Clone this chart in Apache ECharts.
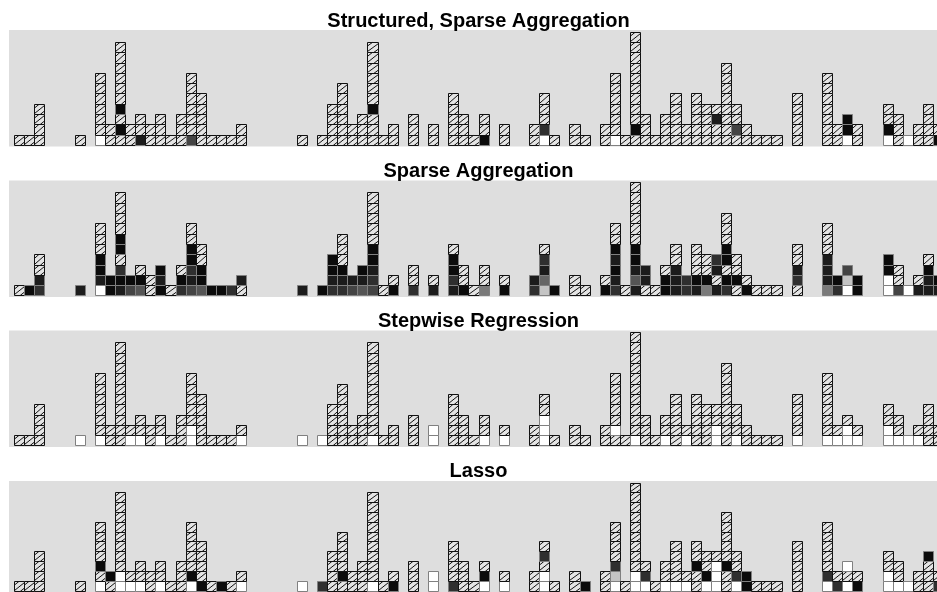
<!DOCTYPE html>
<html><head><meta charset="utf-8">
<script src="https://cdn.jsdelivr.net/npm/echarts@6/dist/echarts.min.js"></script>
<style>html,body{margin:0;padding:0;background:#fff}#c{width:937px;height:592px}</style>
</head><body><div id="c"></div>
<script>
// Panel titles
const panelTitles = ['Structured, Sparse Aggregation', 'Sparse Aggregation', 'Stepwise Regression', 'Lasso'];
const columnCount = 92;
// Cell codes per column, bottom to top. H = hatched, others = grey shades / white.
const structuredSparse = ['H','H','HHHH','','','','H','','WHHHHHH','HH','HKHKHHHHHH','HH','DHH','HH','HHH','H','HHH','FHHHHHH','HHHHH','H','H','H','HH','','','','','','H','','H','HHHH','HHHHHH','HH','HHH','HHHKHHHHHH','H','HH','','HHH','','HH','','HHHHH','HHH','H','KHH','','HH','','','HH','WEHHH','H','','HH','H','','HH','WHHHHHH','H','HKHHHHHHHHH','HHH','H','HHH','HHHHH','HH','HHHHH','HHHH','HHDH','HHHHHHHH','HFHH','HH','H','H','H','','HHHHH','','','HHHHHHH','HH','WKK','HH','','','WKHH','HHH','W','HH','HHHH','KH'];
const sparseAgg = ['H','K','EDHH','','','','D','','WDKKHHH','KK','DKEHKKHHHH','FK','GKH','HH','KDK','H','EKH','FDEKKHH','GKKHH','K','K','E','HD','','','','','','D','','K','EDKK','EDKHHH','FD','GDK','FEDKKHHHHH','H','KH','','EHH','','DH','','DEKKH','KHH','H','LHH','','KH','','','ED','PMDEH','K','','HH','H','','KH','EDKDKHH','H','DGDKKHHHHHH','HDD','H','KKH','DDDHH','EE','DKHHH','LKHH','DHDE','EKHKKHHH','HKHH','KH','H','H','H','','HEDHH','','','LDDDHHH','EK','WPF','KK','','','WWKK','FHH','W','DH','DDKH','DK'];
const stepwise = ['H','H','HHHH','','','','W','','WHHHHHH','HH','HHHHHHHHHH','WH','WHH','HH','WHH','H','HHH','WWHHHHH','HHHHH','H','H','H','WH','','','','','','W','','W','HHHH','HHHHHH','HH','HHH','WHHHHHHHHH','H','HH','','HHH','','WW','','HHHHH','HHH','H','WHH','','WH','','','HH','WWWHH','H','','HH','H','','HH','HWHHHHH','H','WHHHHHHHHHH','HHH','H','WHH','HHHHH','WH','HHHHH','HHHH','WWHH','HHHHHHHH','WHHH','HH','H','H','H','','WHHHH','','','WHHHHHH','WH','WWH','WH','','','WWHH','WHH','W','WH','HHHH','HH'];
const lasso = ['H','H','HHHH','','','','H','','WHKHHHH','HK','WWHHHHHHHH','WH','WHH','HH','WHH','H','HHH','WKHHHHH','KHHHH','H','K','H','WH','','','','','','W','','E','HHHH','HKHHHH','HH','HHH','WHHHHHHHHH','H','KH','','HHH','','WW','','EHHHH','HHH','H','WKH','','WH','','','HH','WWHEH','H','','HH','K','','HH','WPEHHHH','H','WWHHHHHHHHH','WEH','H','WHH','WHHHH','WH','HHKHH','WKHH','WWWH','HHKHHHHH','WEHH','KK','H','H','H','','HHHHH','','','WEHHHHH','EH','WHW','KH','','','WWHH','WHH','W','HH','HHHK','EH'];
const panels = [structuredSparse, sparseAgg, stepwise, lasso];

const fills = {K:'#0b0b0b', D:'#1c1c1c', E:'#2f2f2f', F:'#444444', G:'#555555', M:'#666666', L:'#7a7a7a', P:'#c4c4c4', W:'#ffffff'};
const gridTops = [30, 180.5, 330.5, 481];
const titleTops = [6, 156, 306, 456];

function hatchSeg(s, c){
  let u0 = Math.max(0, (0 - c) / s), u1 = Math.min(1, (1 - c) / s);
  if (u1 <= u0) return null;
  return [u0, s*u0 + c, u1, s*u1 + c];
}
const hatchLines = [hatchSeg(0.8, -0.45), hatchSeg(0.8, 0.1), hatchSeg(0.8, 0.65)].filter(Boolean);

function makeRender(types){
  return function(params, api){
    const k = api.value(0), j = api.value(1);
    const a = api.coord([k, j + 1]), b = api.coord([k + 1, j]);
    const x0 = Math.round(a[0]) + 0.5, y0 = Math.round(a[1]) + 0.5;
    const x1 = Math.round(b[0]) + 0.5, y1 = Math.round(b[1]) + 0.5;
    const w = x1 - x0, h = y1 - y0;
    const t = types[params.dataIndex];
    if (t === 'H') {
      const children = [{type:'rect', shape:{x:x0, y:y0, width:w, height:h}, style:{fill:'#e4e4e4', stroke:null}}];
      hatchLines.forEach(function(l){
        children.push({type:'line', shape:{x1:x0 + l[0]*w, y1:y1 - l[1]*h, x2:x0 + l[2]*w, y2:y1 - l[3]*h}, style:{stroke:'#111', lineWidth:1}});
      });
      children.push({type:'rect', shape:{x:x0, y:y0, width:w, height:h}, style:{fill:null, stroke:'#111', lineWidth:1}});
      return {type:'group', children: children};
    }
    return {type:'rect', shape:{x:x0, y:y0, width:w, height:h}, style:{fill:fills[t], stroke:'#808080', lineWidth:1}};
  };
}

const option = {animation:false, title:[], grid:[], xAxis:[], yAxis:[], series:[]};
panels.forEach(function(cols, p){
  option.title.push({text: panelTitles[p], left: 473.5, top: titleTops[p], textAlign:'center',
    textStyle:{fontSize:20, fontWeight:'bold', fontFamily:'Liberation Sans, Arial, Helvetica, sans-serif', color:'#000'}});
  option.grid.push({left: 9, right: 0, top: gridTops[p], height: 116.5, show: true, backgroundColor:'#dedede', borderWidth: 0});
  option.xAxis.push({type:'value', gridIndex:p, min:-0.495, max:91.39, show:false});
  option.yAxis.push({type:'value', gridIndex:p, min:-0.146, max:11.165, show:false});
  const data = [], types = [];
  for (let k = 0; k < columnCount; k++) {
    const s = cols[k] || '';
    for (let j = 0; j < s.length; j++) { data.push([k, j]); types.push(s[j]); }
  }
  option.series.push({type:'custom', xAxisIndex:p, yAxisIndex:p, renderItem: makeRender(types), data: data, clip:false});
});
const chart = echarts.init(document.getElementById('c'), null, {renderer:'canvas'});
chart.setOption(option);
</script></body></html>
